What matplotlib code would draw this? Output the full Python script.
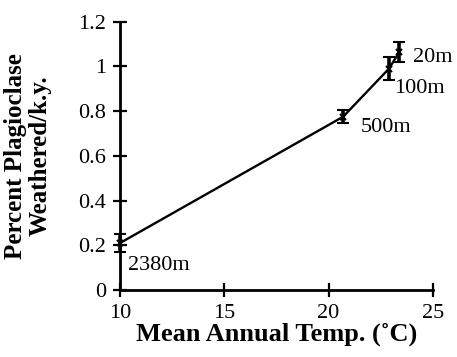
import matplotlib
matplotlib.use('Agg')
import matplotlib.pyplot as plt

# elevation sites
labels = ['2380m', '500m', '100m', '20m']
temp = [10.0, 20.7, 22.9, 23.4]
rate = [0.21, 0.775, 0.99, 1.065]
err = [0.04, 0.03, 0.05, 0.045]
label_offsets = [(6, -16), (13, -8), (4, -14), (10, -4)]

plt.rcParams['font.family'] = ['Liberation Serif', 'DejaVu Serif']

fig = plt.figure(figsize=(4.57, 3.57), dpi=100)
ax = fig.add_axes([0.2626, 0.1877, 0.6844, 0.7515])

eb = ax.errorbar(temp, rate, yerr=err, color='black', lw=1.7, marker='x', ms=5,
                 mew=1.5, capsize=4.5, capthick=2.8, elinewidth=2.6, zorder=3)
for artist in eb.lines[1] + eb.lines[2] + (eb.lines[0],):
    artist.set_clip_on(False)
for t, r, lab, (dx, dy) in zip(temp, rate, labels, label_offsets):
    ax.annotate(lab, (t, r), xytext=(dx, dy), textcoords='offset points',
                fontsize=16, va='center', ha='left')

ax.set_xlim(10, 25)
ax.set_ylim(0, 1.2)
ax.set_xticks([10, 15, 20, 25])
ax.set_yticks([0, 0.2, 0.4, 0.6, 0.8, 1, 1.2])
ax.set_yticklabels(['0', '0.2', '0.4', '0.6', '0.8', '1', '1.2'])
ax.spines['top'].set_visible(False)
ax.spines['right'].set_visible(False)
ax.spines['left'].set_linewidth(2)
ax.spines['bottom'].set_linewidth(2)
ax.tick_params(direction='inout', length=10, width=1.6, labelsize=16, pad=5)
ax.set_xlabel('Mean Annual Temp. (˚C)', fontsize=19, fontweight='bold', labelpad=0)
ax.set_ylabel('Percent Plagioclase\nWeathered/k.y.', fontsize=18,
              fontweight='bold', linespacing=1.1, labelpad=19)

fig.savefig('out.png', dpi=100)
